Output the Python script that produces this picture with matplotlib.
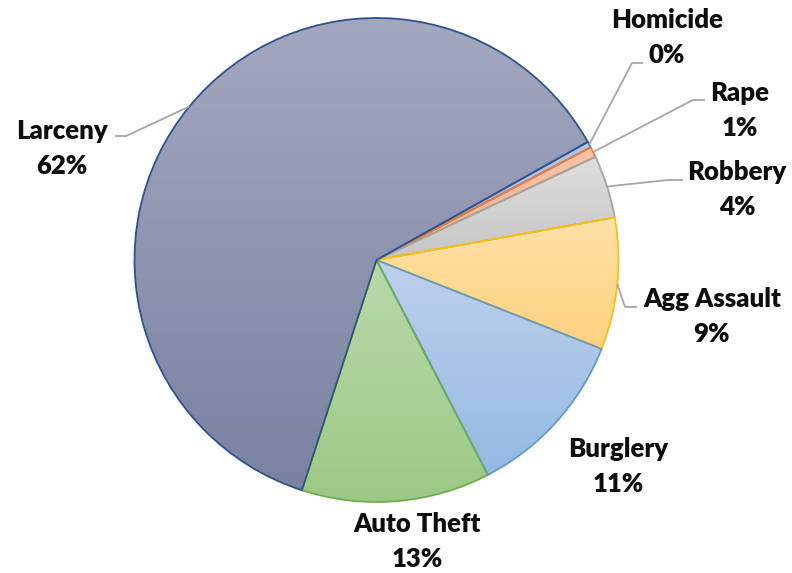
import numpy as np
import matplotlib
matplotlib.use("Agg")
import matplotlib.pyplot as plt
from matplotlib.colors import LinearSegmentedColormap

# crime shares (percent), clockwise from the upper right
crimes = ["Homicide", "Rape", "Robbery", "Agg Assault", "Burglery", "Auto Theft", "Larceny"]
shares = [0.4, 0.7, 4.2, 8.8, 11.4, 12.6, 61.9]

# gradient fill (top, bottom) and border colour per slice
fill_top = ["#b4c7e7", "#f9c3a8", "#dedede", "#ffe1a8", "#bdd1ed", "#b9d9ab", "#a4a8bf"]
fill_bottom = ["#9fb9e0", "#f5b28f", "#c6c6c6", "#ffd280", "#95b9e2", "#9cc985", "#7a82a2"]
borders = ["#4472c4", "#ed7d31", "#a5a5a5", "#ffc000", "#5b9bd5", "#70ad47", "#2f528f"]

# label layout in pixels: centre x / baseline y of the name line, leader elbow (None = no leader)
label_px = [(667, 28), (740, 101), (737, 180), (712, 307), (618, 457), (417, 532), (62, 139)]
elbow_px = [(632, 63), (693, 100), (668, 180), (625, 307), None, None, (126, 136)]
seg_dx = [11, 12, 15, 12, 0, 0, -11]
LINE_GAP = 35

W, H = 792, 573
CX, CY, R = 376.5, 260, 242


def to_data(px, py):
    return (px - CX) / R, (CY - py) / R


def main():
    fig = plt.figure(figsize=(W / 100, H / 100), dpi=100)
    ax = fig.add_axes([0, 0, 1, 1])

    wedges, _ = ax.pie(shares, startangle=29.2, counterclock=False, radius=1,
                       wedgeprops=dict(facecolor="none", linewidth=1.3),
                       frame=False)
    ax.set_xlim(-CX / R, (W - CX) / R)
    ax.set_ylim(-(H - CY) / R, CY / R)
    ax.set_aspect("equal")
    ax.axis("off")

    grad = np.linspace(0, 1, 256).reshape(-1, 1)
    for w, c0, c1, ec in zip(wedges, fill_top, fill_bottom, borders):
        w.set_edgecolor(ec)
        w.set_zorder(3)
        bb = w.get_path().get_extents()
        cmap = LinearSegmentedColormap.from_list("g", [c0, c1])
        im = ax.imshow(grad, cmap=cmap, aspect="auto", origin="upper",
                       extent=[bb.x0, bb.x1, bb.y0, bb.y1], zorder=2,
                       interpolation="bilinear")
        im.set_clip_path(w)

    font = dict(family="Lato", weight="heavy", fontsize=18.5, color="#0d0d0d")
    for i, (name, val) in enumerate(zip(crimes, shares)):
        lx, ly = to_data(*label_px[i])
        ax.text(lx, ly, name, ha="center", va="baseline", **font, zorder=5)
        ax.text(lx, ly - LINE_GAP / R, f"{val:.0f}%", ha="center", va="baseline", **font, zorder=5)
        if elbow_px[i] is None:
            continue
        w = wedges[i]
        mid = np.deg2rad((w.theta1 + w.theta2) / 2)
        ex, ey = to_data(*elbow_px[i])
        hx = ex + seg_dx[i] / R
        ax.plot([np.cos(mid), ex, hx], [np.sin(mid), ey, ey], color="#a6a6a6",
                linewidth=1.3, zorder=4, solid_capstyle="butt")

    fig.savefig("out.png", dpi=100)


if __name__ == "__main__":
    main()
